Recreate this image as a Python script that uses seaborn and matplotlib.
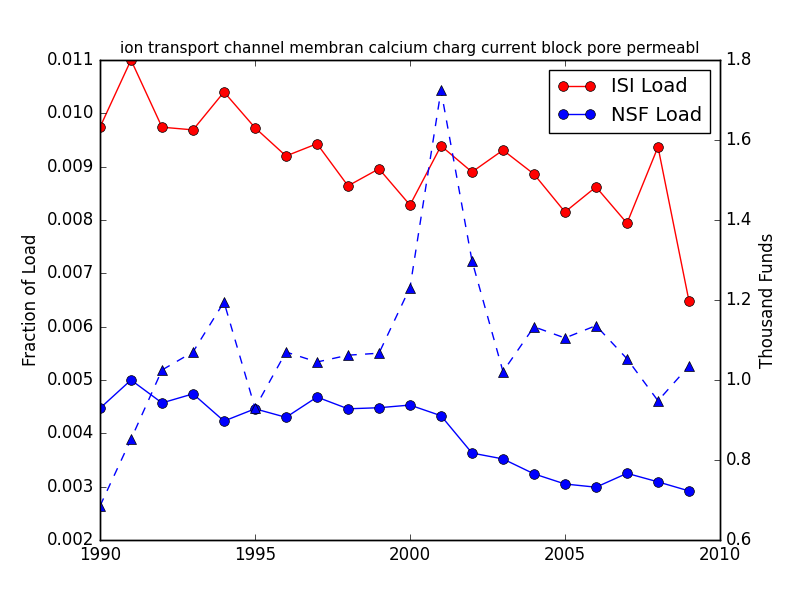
import seaborn as sns
import matplotlib.pyplot as plt
import pandas as pd

years = list(range(1990, 2010))
isi_load = [0.00974, 0.0110, 0.00974, 0.00969, 0.01040, 0.00973, 0.00920, 0.00943,
            0.00864, 0.00896, 0.00828, 0.00939, 0.00890, 0.00931, 0.00886, 0.00815,
            0.00862, 0.00794, 0.00937, 0.00648]
nsf_load = [0.00447, 0.00500, 0.00457, 0.00474, 0.00423, 0.00446, 0.00430, 0.00468,
            0.00446, 0.00448, 0.00453, 0.00433, 0.00363, 0.00352, 0.00324, 0.00305,
            0.00299, 0.00325, 0.00309, 0.00292]
thousand_funds = [0.685, 0.852, 1.025, 1.070, 1.195, 0.930, 1.070, 1.045,
                  1.062, 1.067, 1.231, 1.724, 1.298, 1.021, 1.133, 1.105,
                  1.136, 1.053, 0.948, 1.035]

df = pd.DataFrame({"year": years, "isi": isi_load, "nsf": nsf_load, "funds": thousand_funds})

plt.style.use("classic")
fig, ax1 = plt.subplots(figsize=(8, 6), dpi=100)
fig.subplots_adjust(left=0.125, right=0.9, bottom=0.1, top=0.9)

sns.lineplot(data=df, x="year", y="isi", ax=ax1, color="red", marker="o",
             markeredgecolor="black", markeredgewidth=0.5, markersize=7, label="ISI Load")
sns.lineplot(data=df, x="year", y="nsf", ax=ax1, color="blue", marker="o",
             markeredgecolor="black", markeredgewidth=0.5, markersize=7, label="NSF Load")
ax1.set_ylim(0.002, 0.011)
ax1.set_xlim(1990, 2010)
ax1.ticklabel_format(axis="x", useOffset=False)
ax1.set_xlabel("")
ax1.set_ylabel("Fraction of Load")
ax1.set_title("ion transport channel membran calcium charg current block pore permeabl", fontsize=11)
ax1.legend(loc="upper right", fontsize=14, numpoints=2)

ax2 = ax1.twinx()
sns.lineplot(data=df, x="year", y="funds", ax=ax2, color="blue", marker="^",
             linestyle="--", markeredgecolor="black", markeredgewidth=0.5, markersize=7,
             legend=False)
ax2.set_ylim(0.6, 1.8)
ax2.set_xlim(1990, 2010)
ax2.ticklabel_format(axis="x", useOffset=False)
ax2.set_ylabel("Thousand Funds")
ax2.set_xlabel("")

fig.savefig("out.png", dpi=100)
